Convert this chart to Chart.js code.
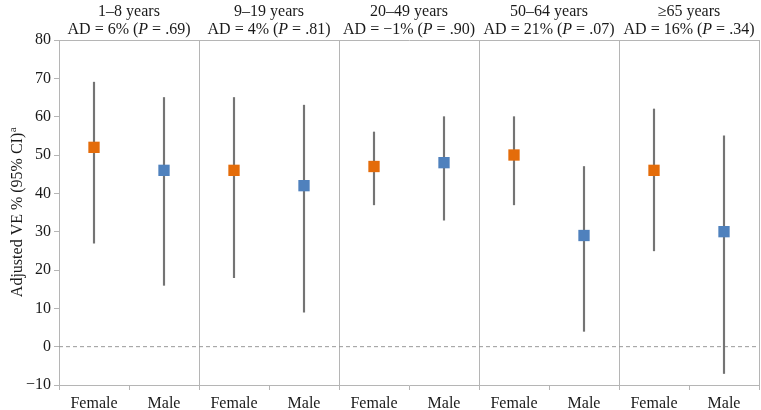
<!DOCTYPE html>
<html>
<head>
<meta charset="utf-8">
<title>Adjusted VE by age group and sex</title>
<script src="https://cdn.jsdelivr.net/npm/chart.js"></script>
<style>
  html, body { margin: 0; padding: 0; background: #fff; }
  #wrap { width: 761px; height: 410px; }
</style>
</head>
<body>
<div id="wrap"><canvas id="veChart"></canvas></div>
<script>
// data
const categories = ['Female', 'Male', 'Female', 'Male', 'Female', 'Male', 'Female', 'Male', 'Female', 'Male'];
const groupNames = ['1–8 years', '9–19 years', '20–49 years', '50–64 years', '≥65 years'];
const adValues = ['6%', '4%', '−1%', '21%', '16%'];
const pValues = ['.69', '.81', '.90', '.07', '.34'];
const ve = [52, 46, 46, 42, 47, 48, 50, 29, 46, 30];
const ciLow = [27, 16, 18, 9, 37, 33, 37, 4, 25, -7];
const ciHigh = [69, 65, 65, 63, 56, 60, 60, 47, 62, 55];
const yMin = -10, yMax = 80, yStep = 10;

const FEMALE = '#E46C0A';
const MALE = '#4F81BD';
const AXIS = '#b5b5b5';
const TEXT = '#1a1a1a';
const FONT = "'Liberation Serif', 'DejaVu Serif', serif";

const annotations = {
  id: 'annotations',
  beforeDatasetsDraw(chart) {
    // dashed reference line at 0
    const { ctx, chartArea, scales: { y } } = chart;
    const y0 = y.getPixelForValue(0);
    ctx.save();
    ctx.strokeStyle = '#999';
    ctx.lineWidth = 1;
    ctx.setLineDash([4, 3]);
    ctx.beginPath();
    ctx.moveTo(chartArea.left, y0);
    ctx.lineTo(chartArea.right, y0);
    ctx.stroke();
    ctx.restore();
  },
  afterDraw(chart) {
    const { ctx, chartArea, scales: { x } } = chart;
    ctx.save();
    ctx.fillStyle = TEXT;
    ctx.textBaseline = 'middle';

    // group headers
    groupNames.forEach((name, g) => {
      const cx = (x.getPixelForValue(2 * g) + x.getPixelForValue(2 * g + 1)) / 2;
      ctx.font = '16px ' + FONT;
      ctx.textAlign = 'center';
      ctx.fillText(name, cx, 12);

      const parts = [
        ['AD = ' + adValues[g] + ' (', 'normal'],
        ['P', 'italic'],
        [' = ' + pValues[g] + ')', 'normal']
      ];
      let total = 0;
      parts.forEach(p => { ctx.font = p[1] + ' 16px ' + FONT; p.push(ctx.measureText(p[0]).width); total += p[2]; });
      let px = cx - total / 2;
      ctx.textAlign = 'left';
      parts.forEach(p => {
        ctx.font = p[1] + ' 16px ' + FONT;
        ctx.fillText(p[0], px, 30);
        px += p[2];
      });
    });

    // y axis title with superscript a
    const main = 'Adjusted VE % (95% CI)';
    ctx.translate(18, (chartArea.top + chartArea.bottom) / 2);
    ctx.rotate(-Math.PI / 2);
    ctx.font = '16px ' + FONT;
    const w1 = ctx.measureText(main).width;
    ctx.font = '11px ' + FONT;
    const w2 = ctx.measureText('a').width;
    const start = -(w1 + w2) / 2;
    ctx.textAlign = 'left';
    ctx.font = '16px ' + FONT;
    ctx.fillText(main, start, 0);
    ctx.font = '11px ' + FONT;
    ctx.fillText('a', start + w1 + 0.5, -5);
    ctx.restore();
  }
};

const ctx = document.getElementById('veChart').getContext('2d');
new Chart(ctx, {
  data: {
    labels: categories,
    datasets: [
      {
        type: 'line',
        label: 'VE',
        data: ve,
        showLine: false,
        pointStyle: 'rect',
        pointRadius: 8,
        pointHoverRadius: 8,
        pointBorderWidth: 0,
        pointBackgroundColor: categories.map(c => c === 'Female' ? FEMALE : MALE),
        order: 0
      },
      {
        type: 'bar',
        label: '95% CI',
        data: ciLow.map((lo, i) => [lo, ciHigh[i]]),
        backgroundColor: '#747474',
        barThickness: 1.5,
        order: 1
      }
    ]
  },
  options: {
    responsive: true,
    maintainAspectRatio: false,
    animation: false,
    layout: { autoPadding: false, padding: { top: 40, right: 2, left: 0, bottom: 0 } },
    plugins: { legend: { display: false }, tooltip: { enabled: false } },
    scales: {
      x: {
        type: 'category',
        offset: true,
        afterFit: s => { s.height = 25; s.paddingLeft = 0; s.paddingRight = 0; },
        grid: {
          offset: true,
          color: c => (c.type !== 'tick' || c.index % 2 === 0) ? AXIS : 'rgba(0,0,0,0)',
          tickColor: AXIS,
          tickLength: 5
        },
        border: { color: AXIS },
        ticks: {
          color: TEXT,
          font: { family: FONT, size: 16 },
          maxRotation: 0,
          autoSkip: false,
          padding: 4
        }
      },
      y: {
        min: yMin,
        max: yMax,
        afterFit: s => { s.width = 59; s.paddingTop = 0; s.paddingBottom = 0; },
        grid: {
          color: c => (c.tick && c.tick.value === yMax) ? AXIS : 'rgba(0,0,0,0)',
          tickColor: AXIS,
          tickLength: 5
        },
        border: { color: AXIS },
        ticks: {
          stepSize: yStep,
          color: TEXT,
          font: { family: FONT, size: 16 },
          padding: 3,
          callback: v => v < 0 ? '−' + Math.abs(v) : String(v)
        }
      }
    }
  },
  plugins: [annotations]
});
</script>
</body>
</html>
